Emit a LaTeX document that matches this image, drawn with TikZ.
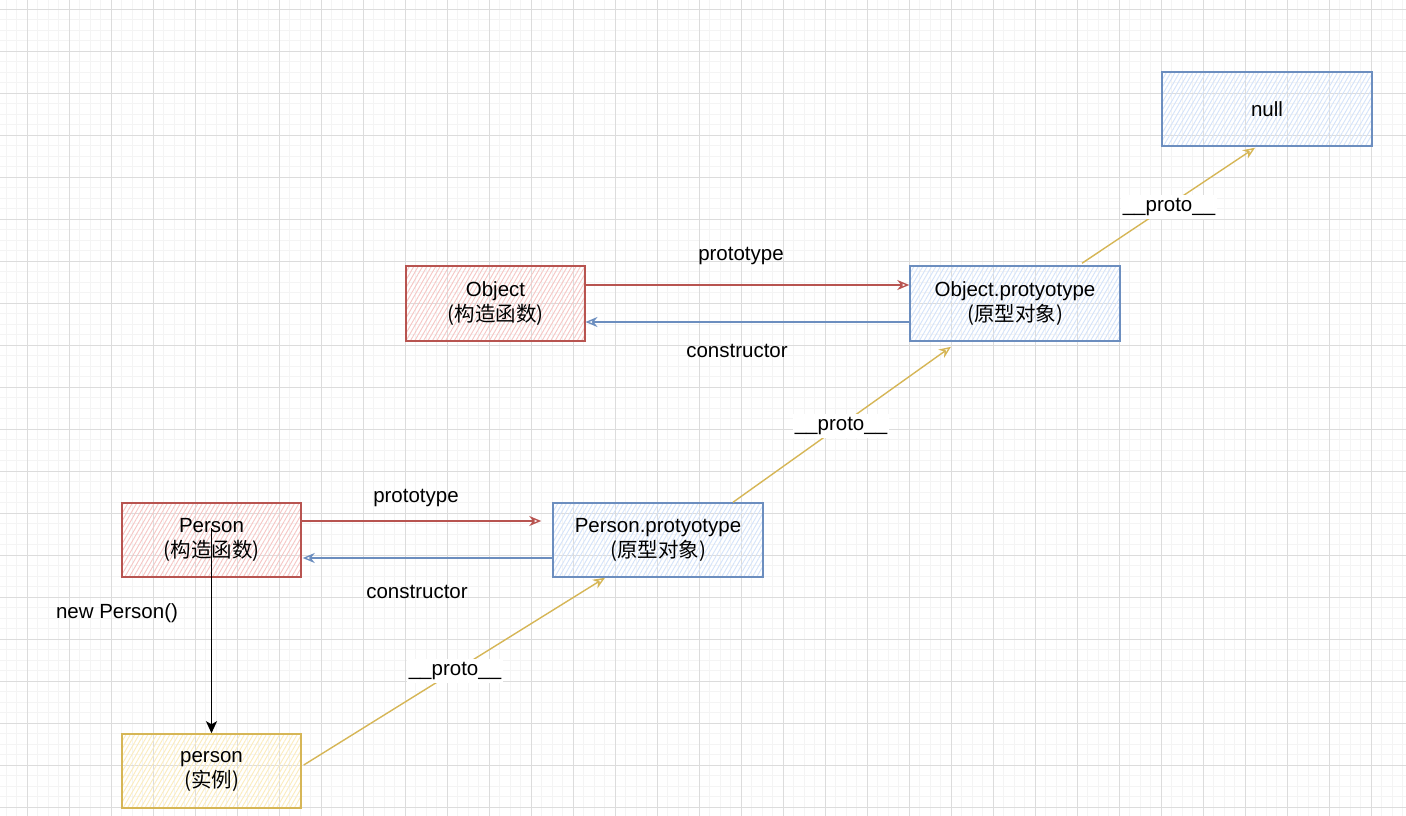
\documentclass[tikz,border=0pt]{standalone}
\usepackage{fontspec}
\setmainfont{Liberation Sans}
\newfontfamily\cjk{Noto Sans CJK SC}
\usetikzlibrary{arrows.meta,patterns.meta}
\definecolor{gridminor}{HTML}{F4F4F4}
\definecolor{gridmajor}{HTML}{DCDCDC}
\definecolor{redstroke}{HTML}{B85450}
\definecolor{redhatch}{HTML}{F6C6C4}
\definecolor{bluestroke}{HTML}{6C8EBF}
\definecolor{bluehatch}{HTML}{D4E3FA}
\definecolor{yelstroke}{HTML}{D6B656}
\definecolor{yelhatch}{HTML}{FCECBC}
\tikzset{
  box/.style={rectangle, draw, line width=1.5pt, inner sep=0pt, align=center,
    font=\fontsize{20.5}{25}\selectfont},
  hatch/.style={pattern={Lines[angle=60,distance=3.8pt,line width=0.9pt]}},
  redbox/.style={box, draw=redstroke, hatch, pattern color=redhatch},
  bluebox/.style={box, draw=bluestroke, hatch, pattern color=bluehatch},
  yelbox/.style={box, draw=yelstroke, hatch, pattern color=yelhatch},
  lbl/.style={inner sep=1pt, font=\fontsize{20.5}{25}\selectfont},
  protolbl/.style={lbl, fill=white, inner xsep=2pt, inner ysep=3pt},
  arr/.style={line width=1.4pt, -{Stealth[open, length=12pt, width=10pt]}},
  blackarr/.style={line width=1.7pt, -{Stealth[length=12pt, width=11pt, inset=3pt]}},
}
\begin{document}
\begin{tikzpicture}[x=1pt, y=-1pt]
\useasboundingbox (0,0) rectangle (1406,816);
\fill[white] (0,0) rectangle (1406,816);
% grid
\foreach \i in {0,...,134} { \draw[gridminor, line width=0.8pt] ({6.3+10.5*\i},0) -- ({6.3+10.5*\i},816); }
\foreach \i in {-1,...,77} { \draw[gridminor, line width=0.8pt] (0,{9.3+10.5*\i}) -- (1406,{9.3+10.5*\i}); }
\foreach \i in {0,...,33} { \draw[gridmajor, line width=0.9pt] ({27.3+42*\i},0) -- ({27.3+42*\i},816); }
\foreach \i in {0,...,19} { \draw[gridmajor, line width=0.9pt] (0,{9.3+42*\i}) -- (1406,{9.3+42*\i}); }

% nodes
\node[redbox, minimum width=179pt, minimum height=75pt] (obj) at (495.5,303.5) {Object\\{\cjk (构造函数)}};
\node[bluebox, minimum width=210pt, minimum height=75pt] (objp) at (1015,303.5) {Object.protyotype\\{\cjk (原型对象)}};
\node[bluebox, minimum width=210pt, minimum height=74pt] (nul) at (1267,109) {null};
\node[redbox, minimum width=179pt, minimum height=74pt] (per) at (211.5,540) {Person\\{\cjk (构造函数)}};
\node[bluebox, minimum width=210pt, minimum height=74pt] (perp) at (658,540) {Person.protyotype\\{\cjk (原型对象)}};
\node[yelbox, minimum width=179pt, minimum height=74pt] (inst) at (211.5,771) {person\\{\cjk (实例)}};

% connectors
\draw[arr, redstroke] ([yshift=18.5pt]obj.east) -- ([yshift=18.5pt]objp.west);
\draw[arr, bluestroke] ([yshift=-18.5pt]objp.west) -- ([yshift=-18.5pt]obj.east);
\draw[arr, redstroke] ([yshift=19pt]per.east) -- ([xshift=-11pt,yshift=19pt]perp.west);
\draw[arr, bluestroke] ([yshift=-18pt]perp.west) -- ([xshift=1pt,yshift=-18pt]per.east);
\draw[blackarr, black] ([yshift=12pt]per.center) -- (inst.north);
\draw[arr, yelstroke] ([xshift=2pt,yshift=6pt]inst.east) -- ([xshift=-53pt]perp.south);
\draw[arr, yelstroke] ([xshift=75pt]perp.north) -- ([xshift=-64pt,yshift=-5pt]objp.south);
\draw[arr, yelstroke] ([xshift=67pt,yshift=2pt]objp.north) -- ([xshift=-12pt,yshift=-1pt]nul.south);

% labels
\node[lbl] (l1) at (741,256) {prototype};
\node[lbl] (l2) at (737,351) {constructor};
\node[lbl] (l3) at (416,498) {prototype};
\node[lbl] (l4) at (417,592) {constructor};
\node[lbl] (l5) at (117,613) {new Person()};
\node[protolbl] (p1) at (455,671) {\_\_proto\_\_};
\node[protolbl] (p2) at (841,426) {\_\_proto\_\_};
\node[protolbl] (p3) at (1169,207) {\_\_proto\_\_};
\end{tikzpicture}
\end{document}
